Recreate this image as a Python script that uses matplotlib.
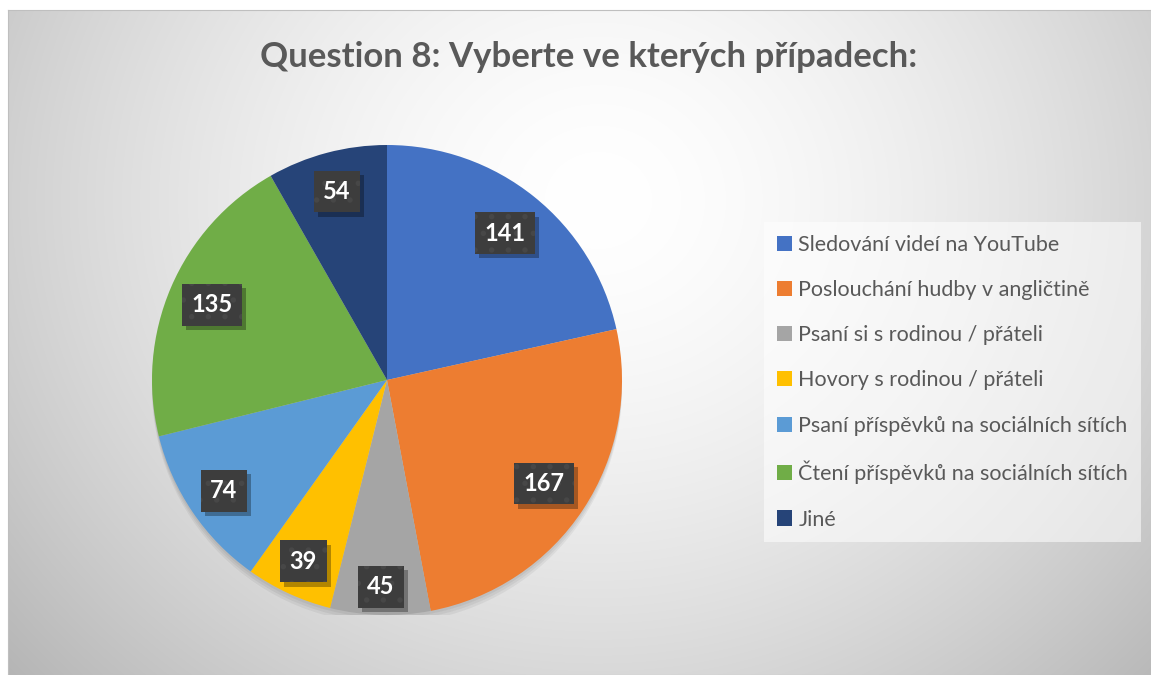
import numpy as np
import matplotlib.pyplot as plt
import matplotlib.patheffects as pe
from matplotlib.patches import Circle

plt.rcParams['font.family'] = ['Lato', 'DejaVu Sans']
plt.rcParams['hatch.linewidth'] = 1.5

# data
categories = [
    "Sledování videí na YouTube",
    "Poslouchání hudby v angličtině",
    "Psaní si s rodinou / přáteli",
    "Hovory s rodinou / přáteli",
    "Psaní příspěvků na sociálních sítích",
    "Čtení příspěvků na sociálních sítích",
    "Jiné",
]
counts = [141, 167, 45, 39, 74, 135, 54]
colors = ["#4472C4", "#ED7D31", "#A5A5A5", "#FFC000", "#5B9BD5", "#70AD47", "#264478"]
title = "Question 8: Vyberte ve kterých případech:"

# how far out each data label sits (fraction of radius), as excel placed them
label_r = [0.80, 0.80, 0.88, 0.85, 0.84, 0.81, 0.83]

W, H = 1151, 675
fig = plt.figure(figsize=(W / 100, H / 100), dpi=100)
fig.patch.set_facecolor("white")

# chart area background: radial gradient white -> grey
bg = fig.add_axes([8 / W, 0, 1 - 8 / W, 665 / H])
yy, xx = np.mgrid[0:665, 0:1143]
d = np.sqrt(((xx - 590) / 1.05) ** 2 + ((yy - 190) / 0.95) ** 2)
v = 1 - 0.23 * np.clip(d / 650, 0, 1.2) ** 1.6
bg.imshow(np.dstack([v, v, v]), aspect="auto", extent=(0, 1, 0, 1), interpolation="bilinear")
bg.set_xticks([])
bg.set_yticks([])
for s in bg.spines.values():
    s.set_color("#bfbfbf")
    s.set_linewidth(0.8)

fig.text(589 / W, 1 - 57 / H, title, ha="center", va="center",
         fontsize=25, fontweight="bold", color="#595959")

# pie
ax = fig.add_axes([152 / W, 60 / H, 470 / W, 470 / H])
ax.set_facecolor("none")
# soft shadow under the whole pie
for k in range(3):
    ax.add_patch(Circle((0, -0.012 * (k + 1)), 1.0, fc="black", ec="none", alpha=0.05, zorder=0))
wedges, _ = ax.pie(counts, colors=colors, startangle=90, counterclock=False,
                   radius=1, wedgeprops=dict(linewidth=0))
ax.set_xlim(-1, 1)
ax.set_ylim(-1, 1)
ax.set_aspect("equal")
ax.axis("off")

total = sum(counts)
start = 90.0
for val, r in zip(counts, label_r):
    sweep = val / total * 360
    mid = np.deg2rad(start - sweep / 2)
    start -= sweep
    x, y = r * np.cos(mid), r * np.sin(mid)
    # plain box carrying the drop shadow
    t0 = ax.text(x, y, str(val), ha="center", va="center", fontsize=17,
                 fontweight="bold", color="white", zorder=5,
                 bbox=dict(boxstyle="square,pad=0.4", fc="#3d3d3d", ec="none"))
    t0.get_bbox_patch().set_path_effects([
        pe.SimplePatchShadow(offset=(3, -3), shadow_rgbFace="#000000", alpha=0.3),
        pe.Normal()])
    # faint dotted texture on top
    ax.text(x, y, str(val), ha="center", va="center", fontsize=17,
            fontweight="bold", color="white", zorder=6,
            bbox=dict(boxstyle="square,pad=0.4", fc="#3d3d3d", ec="#474747",
                      lw=0, hatch="."))

leg = fig.legend(wedges, categories, loc="upper left",
                 bbox_to_anchor=(764 / W, 1 - 222 / H),
                 fontsize=15.5, frameon=True, fancybox=False,
                 handlelength=0.7, handleheight=0.7, handletextpad=0.3,
                 labelspacing=1.17, borderpad=0.6, borderaxespad=0)
leg.get_frame().set_facecolor("white")
leg.get_frame().set_alpha(0.55)
leg.get_frame().set_edgecolor("none")
for txt in leg.get_texts():
    txt.set_color("#595959")

fig.savefig("out.png", dpi=100)
